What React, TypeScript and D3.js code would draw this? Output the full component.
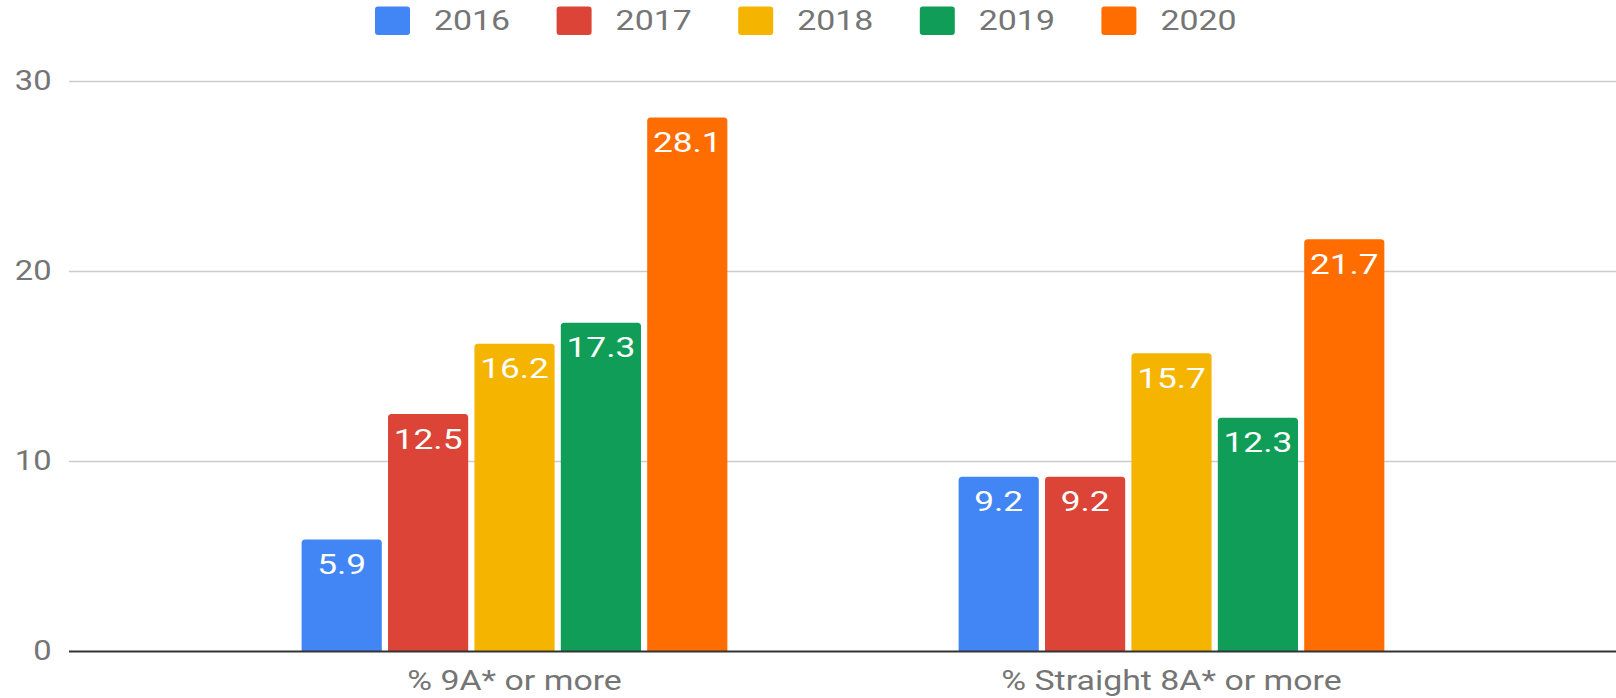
import React from "react";
import * as d3 from "d3";

const categories = ["% 9A* or more", "% Straight 8A* or more"];
const years = ["2016", "2017", "2018", "2019", "2020"];
const colors = ["#4285f4", "#db4437", "#f4b400", "#0f9d58", "#ff6d01"];
const values2016 = [5.9, 9.2];
const values2017 = [12.5, 9.2];
const values2018 = [16.2, 15.7];
const values2019 = [17.3, 12.3];
const values2020 = [28.1, 21.7];
const series = [values2016, values2017, values2018, values2019, values2020];
const yTicks = [0, 10, 20, 30];

const W = 1616;
const H = 698;
const FONT = "Roboto, 'Noto Sans', Arial, sans-serif";
const SX = 1.21;
const SXL = 1.26;

function topRoundedRect(x: number, y: number, w: number, h: number, r: number) {
  const rr = Math.min(r, h, w / 2);
  return `M${x},${y + h}V${y + rr}Q${x},${y} ${x + rr},${y}H${x + w - rr}Q${x + w},${y} ${x + w},${y + rr}V${y + h}Z`;
}

export default function App() {
  const y = d3.scaleLinear().domain([0, 30]).range([651.5, 81.5]);
  const x0 = d3.scaleBand<string>().domain(categories).range([186, 1500]).paddingInner(0.352).paddingOuter(0.176);
  const x1 = d3.scaleBand<string>().domain(years).range([0, x0.bandwidth()]).paddingInner(0.072).paddingOuter(0);
  const plotLeft = 69;
  const legendX = d3.scalePoint<string>().domain(years).range([375, 375 + 4 * 181.6]);

  return (
    <svg width={W} height={H} style={{ position: "absolute", left: 0, top: 0, background: "#fff" }} fontFamily={FONT}>
      {/* legend */}
      {years.map((yr, i) => (
        <g key={yr}>
          <rect x={legendX(yr)} y={6.5} width={35} height={28.5} rx={3} fill={colors[i]} />
          <text transform={`translate(${(legendX(yr) as number) + 59},29.5) scale(${SX},1)`} fontSize={28} fill="#757575">
            {yr}
          </text>
        </g>
      ))}
      {/* gridlines & y labels */}
      {yTicks.map((t) => (
        <g key={t}>
          {t !== 0 && (
            <line x1={plotLeft} x2={W} y1={y(t)} y2={y(t)} stroke="#cccccc" strokeWidth={1.6} />
          )}
          <text transform={`translate(51.5,${y(t) + 8}) scale(${SX},1)`} textAnchor="end" fontSize={27} fill="#757575">
            {t}
          </text>
        </g>
      ))}
      {/* bars */}
      {categories.map((c, ci) => (
        <g key={c} transform={`translate(${x0(c)},0)`}>
          {years.map((yr, si) => {
            const v = series[si][ci];
            const bx = x1(yr) as number;
            const bw = x1.bandwidth();
            const top = y(v);
            return (
              <g key={yr}>
                <path d={topRoundedRect(bx, top, bw, y(0) - top, 3.5)} fill={colors[si]} />
                <text
                  transform={`translate(${bx + bw / 2},${top + 34.5}) scale(${SXL},1)`}
                  textAnchor="middle"
                  fontSize={28}
                  fill="#ffffff"
                >
                  {v.toFixed(1)}
                </text>
              </g>
            );
          })}
          <text
            transform={`translate(${x0.bandwidth() / 2},690) scale(${SX},1)`}
            textAnchor="middle"
            fontSize={28}
            fill="#757575"
          >
            {c}
          </text>
        </g>
      ))}
      {/* baseline */}
      <line x1={plotLeft} x2={W} y1={y(0)} y2={y(0)} stroke="#333333" strokeWidth={2} />
    </svg>
  );
}
